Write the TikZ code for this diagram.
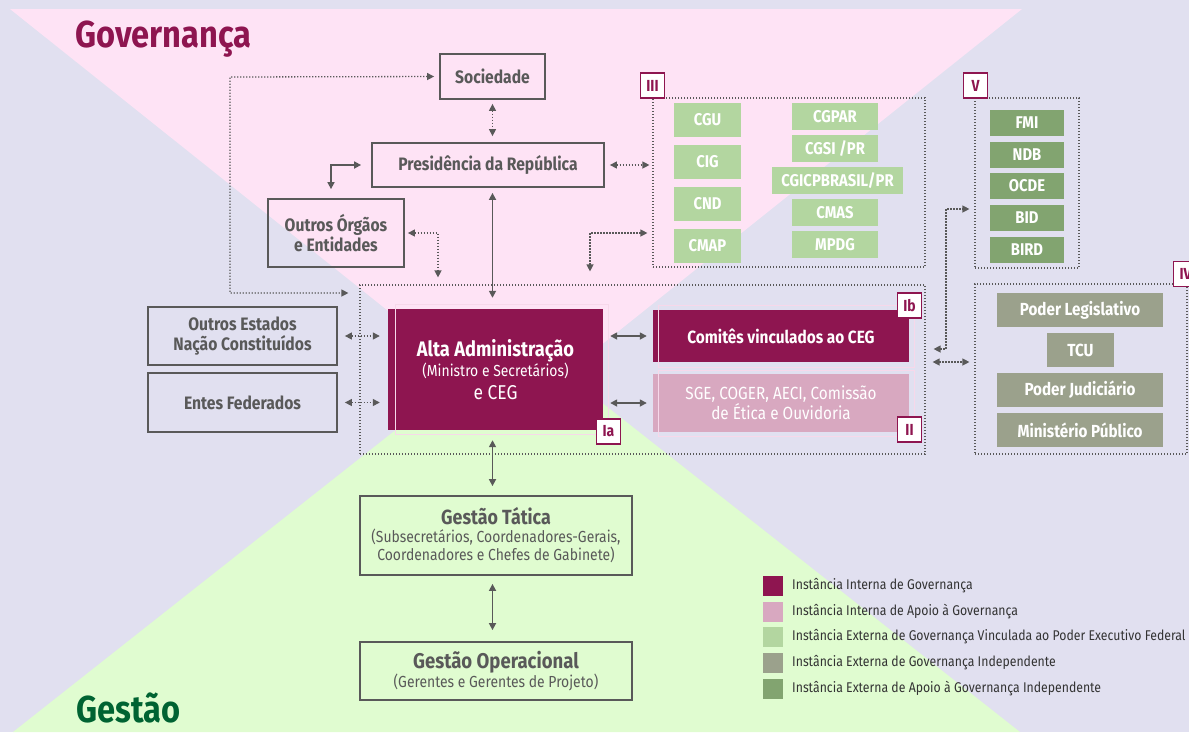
\documentclass[tikz,border=0pt]{standalone}
\usepackage{fontspec}
\setmainfont{Fira Sans}[FakeStretch=0.87]
\usetikzlibrary{arrows.meta}
\definecolor{lav}{RGB}{225,224,240}
\definecolor{blush}{RGB}{254,227,245}
\definecolor{mint}{RGB}{224,252,208}
\definecolor{wine}{RGB}{142,21,80}
\definecolor{mauve}{RGB}{216,168,192}
\definecolor{leaf}{RGB}{179,214,160}
\definecolor{sage}{RGB}{155,161,140}
\definecolor{moss}{RGB}{130,164,112}
\definecolor{ink}{RGB}{89,89,89}
\definecolor{pine}{RGB}{0,99,50}
\definecolor{halo}{RGB}{247,216,234}
\pgfdeclarelayer{backlayer}
\pgfdeclarelayer{edgelayer}
\pgfdeclarelayer{nodelayer}
\pgfsetlayers{backlayer,edgelayer,nodelayer,main}
\tikzstyle{none}=[inner sep=0pt]
\tikzstyle{big title}=[inner sep=0pt, anchor=base west, font=\bfseries\fontsize{37.5}{38}\selectfont]
\tikzstyle{gray box}=[draw=ink, line width=1.8pt, text=ink, align=center, inner sep=0pt, font=\bfseries\fontsize{18}{20}\selectfont]
\tikzstyle{core box}=[fill=wine, text=white, align=center, inner sep=0pt]
\tikzstyle{support box}=[fill=mauve, text=white, align=center, inner sep=0pt, font=\fontsize{17.6}{20}\selectfont]
\tikzstyle{ext box}=[fill=leaf, text=white, inner sep=0pt, font=\bfseries\fontsize{17}{18}\selectfont]
\tikzstyle{indep box}=[fill=sage, text=white, inner sep=0pt, font=\bfseries\fontsize{17.5}{18}\selectfont]
\tikzstyle{aid box}=[fill=moss, text=white, inner sep=0pt, font=\bfseries\fontsize{17}{18}\selectfont]
\tikzstyle{frame}=[draw=ink, line width=1.2pt, dash pattern=on 1.2pt off 1.8pt]
\tikzstyle{tag}=[draw=wine, line width=1.5pt, fill=white, text=wine, inner sep=0pt, minimum width=24pt, minimum height=25pt, font=\bfseries\fontsize{16}{16}\selectfont]
\tikzstyle{halo line}=[draw=halo, line width=1pt]
\tikzstyle{key}=[minimum size=20pt, inner sep=0pt]
\tikzstyle{key text}=[anchor=west, inner sep=0pt, text=black!80, font=\fontsize{14.1}{15}\selectfont]
\tikzstyle{solid link}=[draw=ink, line width=1.6pt, {Triangle[length=7pt,width=7pt]}-{Triangle[length=7pt,width=7pt]}]
\tikzstyle{dot link}=[draw=ink, line width=1.3pt, dash pattern=on 1.3pt off 1.7pt, {Triangle[length=7pt,width=7pt]}-{Triangle[length=7pt,width=7pt]}]

\begin{document}
\begin{tikzpicture}[x=1pt, y=-1pt]
	\useasboundingbox (0,0) rectangle (1189,732);
	\begin{pgfonlayer}{backlayer}
		\fill [lav] (0,0) rectangle (1189,732);
		\fill [blush] (10,9) -- (1022,9) -- (516,413) -- cycle;
		\fill [mint] (13,732) -- (1020,732) -- (516,335) -- cycle;
	\end{pgfonlayer}
	\begin{pgfonlayer}{nodelayer}
		\node [style=big title, text=wine] (0) at (75,47) {Governança};
		\node [style=big title, text=pine] (1) at (76,722) {Gestão};
		\node [style=gray box, minimum width=105pt, minimum height=45pt] (2) at (492.5,76.5) {Sociedade};
		\node [style=gray box, minimum width=232pt, minimum height=44pt] (3) at (488,165) {Presidência da República};
		\node [style=gray box, minimum width=136pt, minimum height=68pt] (4) at (336,233) {Outros Órgãos\\e Entidades};
		\node [style=gray box, minimum width=189pt, minimum height=58pt] (5) at (242.5,336) {Outros Estados\\Nação Constituídos};
		\node [style=gray box, minimum width=189pt, minimum height=59pt] (6) at (242.5,402.5) {Entes Federados};
		\node [style=core box, minimum width=215pt, minimum height=121pt, font=\fontsize{16}{20}\selectfont] (7) at (495.5,369.5) {{\bfseries\fontsize{21}{20}\selectfont Alta Administração}\\(Ministro e Secretários)\\[3pt]{\fontsize{20}{20}\selectfont e CEG}};
		\node [style=core box, minimum width=256pt, minimum height=52pt, font=\bfseries\fontsize{17.7}{18}\selectfont] (8) at (781,336) {Comitês vinculados ao CEG};
		\node [style=support box, minimum width=256pt, minimum height=58pt] (9) at (781,403) {SGE, COGER, AECI, Comissão\\de Ética e Ouvidoria};
		\node [style=gray box, minimum width=272pt, minimum height=79pt, font=\fontsize{16}{18}\selectfont] (10) at (496,535.5) {{\bfseries\fontsize{20.5}{18}\selectfont Gestão Tática}\\(Subsecretários, Coordenadores-Gerais,\\Coordenadores e Chefes de Gabinete)};
		\node [style=gray box, minimum width=272pt, minimum height=58pt, font=\fontsize{16}{18}\selectfont] (11) at (496,671) {{\bfseries\fontsize{21.3}{18}\selectfont Gestão Operacional}\\(Gerentes e Gerentes de Projeto)};
		\node [style=frame, minimum width=565pt, minimum height=169pt] (12) at (642.5,369.5) {};
		\node [style=frame, minimum width=272pt, minimum height=169pt] (13) at (789,182.5) {};
		\node [style=frame, minimum width=104pt, minimum height=170pt] (14) at (1027,183) {};
		\node [style=frame, minimum width=212pt, minimum height=170pt] (15) at (1081,369) {};
		\node [style=ext box, minimum width=67pt, minimum height=34pt] (22) at (707.5,120) {CGU};
		\node [style=ext box, minimum width=67pt, minimum height=34pt] (23) at (707.5,162) {CIG};
		\node [style=ext box, minimum width=67pt, minimum height=34pt] (24) at (707.5,204) {CND};
		\node [style=ext box, minimum width=67pt, minimum height=34pt] (25) at (707.5,246) {CMAP};
		\node [style=ext box, minimum width=86pt, minimum height=27pt] (26) at (835,116.5) {CGPAR};
		\node [style=ext box, minimum width=86pt, minimum height=27pt] (27) at (835,148.5) {CGSI /PR};
		\node [style=ext box, minimum width=131pt, minimum height=27pt] (28) at (837.5,180.5) {CGICPBRASIL/PR};
		\node [style=ext box, minimum width=86pt, minimum height=27pt] (29) at (835,212.5) {CMAS};
		\node [style=ext box, minimum width=86pt, minimum height=27pt] (30) at (835,244.5) {MPDG};
		\node [style=aid box, minimum width=74pt, minimum height=26pt] (31) at (1027,123) {FMI};
		\node [style=aid box, minimum width=74pt, minimum height=26pt] (32) at (1027,155) {NDB};
		\node [style=aid box, minimum width=74pt, minimum height=26pt] (33) at (1027,186) {OCDE};
		\node [style=aid box, minimum width=74pt, minimum height=26pt] (34) at (1027,218) {BID};
		\node [style=aid box, minimum width=74pt, minimum height=26pt] (35) at (1027,250) {BIRD};
		\node [style=indep box, minimum width=166pt, minimum height=34pt] (36) at (1080,310) {Poder Legislativo};
		\node [style=indep box, minimum width=67pt, minimum height=34pt] (37) at (1080.5,350) {TCU};
		\node [style=indep box, minimum width=166pt, minimum height=34pt] (38) at (1080,390) {Poder Judiciário};
		\node [style=indep box, minimum width=166pt, minimum height=34pt] (39) at (1080,430) {Ministério Público};
		\node [style=key, fill=wine] (40) at (773,586) {};
		\node [style=key, fill=mauve] (41) at (773,612) {};
		\node [style=key, fill=leaf] (42) at (773,637) {};
		\node [style=key, fill=sage] (43) at (773,663) {};
		\node [style=key, fill=moss] (44) at (773,689) {};
		\node [style=key text] (45) at (792,586) {Instância Interna de Governança};
		\node [style=key text] (46) at (792,612) {Instância Interna de Apoio à Governança};
		\node [style=key text] (47) at (792,637) {Instância Externa de Governança Vinculada ao Poder Executivo Federal};
		\node [style=key text] (48) at (792,663) {Instância Externa de Governança Independente};
		\node [style=key text] (49) at (792,689) {Instância Externa de Apoio à Governança Independente};
	\end{pgfonlayer}
	\begin{pgfonlayer}{edgelayer}
		\coordinate (50) at (230,77);
		\coordinate (51) at (230,293);
		\coordinate (52) at (331,165);
		\coordinate (53) at (438,233);
		\coordinate (54) at (590,233);
		\coordinate (55) at (946,209);
		\coordinate (56) at (946,349);
		\coordinate (57) at (950,362);
		\draw [style=dot link, shorten <=5pt, shorten >=11pt] (2.west) -- (50) -- (51) -- (12.west |- 51);
		\draw [style=dot link, shorten <=4pt, shorten >=6pt] (2.south) -- (2.south |- 3.north);
		\draw [style=solid link, shorten <=10pt, shorten >=9pt] (3.west) -- (52) -- (52 |- 4.north);
		\draw [style=solid link, shorten <=5pt, shorten >=11pt] (2 |- 3.south) -- (2 |- 7.north);
		\draw [style=dot link, shorten <=5pt, shorten >=3pt] (3.east) -- (3.east -| 13.west);
		\draw [style=dot link, shorten <=3pt, shorten >=7pt] (4.east) -- (53) -- (53 |- 12.north);
		\draw [style=dot link, shorten <=5pt, shorten >=13pt] (13.west |- 54) -- (54) -- (54 |- 12.north);
		\draw [style=dot link, shorten <=7pt, shorten >=8pt] (5.east) -- (7.west |- 5.east);
		\draw [style=dot link, shorten <=7pt, shorten >=8pt] (6.east) -- (7.west |- 6.east);
		\draw [style=solid link, shorten <=7pt, shorten >=6pt] (7.east |- 8.west) -- (8.west);
		\draw [style=solid link, shorten <=7pt, shorten >=6pt] (7.east |- 9.west) -- (9.west);
		\draw [style=solid link, shorten <=10pt, shorten >=9pt] (2 |- 7.south) -- (2 |- 10.north);
		\draw [style=solid link, shorten <=8pt, shorten >=11pt] (2 |- 10.south) -- (2 |- 11.north);
		\draw [style=dot link, shorten <=8pt, shorten >=5pt] (12.east |- 56) -- (56) -- (55) -- (55 -| 14.west);
		\draw [style=dot link, shorten <=7pt, shorten >=5pt] (12.east |- 57) -- (15.west |- 57);
	\end{pgfonlayer}
	% pale outlines and roman tags on top
	\draw [style=halo line] (395,304) rectangle (608,434);
	\draw [style=halo line] (658,305) rectangle (914,367);
	\draw [style=halo line] (658,370) rectangle (914,436);
	\node [style=tag] (16) at (608.5,431.5) {Ia};
	\node [style=tag] (17) at (909.5,305.5) {Ib};
	\node [style=tag] (18) at (909.5,429.5) {II};
	\node [style=tag] (19) at (652.5,85.5) {III};
	\node [style=tag] (20) at (975.5,85.5) {V};
	\node [style=tag] (21) at (1185.5,274) {IV};
\end{tikzpicture}
\end{document}
